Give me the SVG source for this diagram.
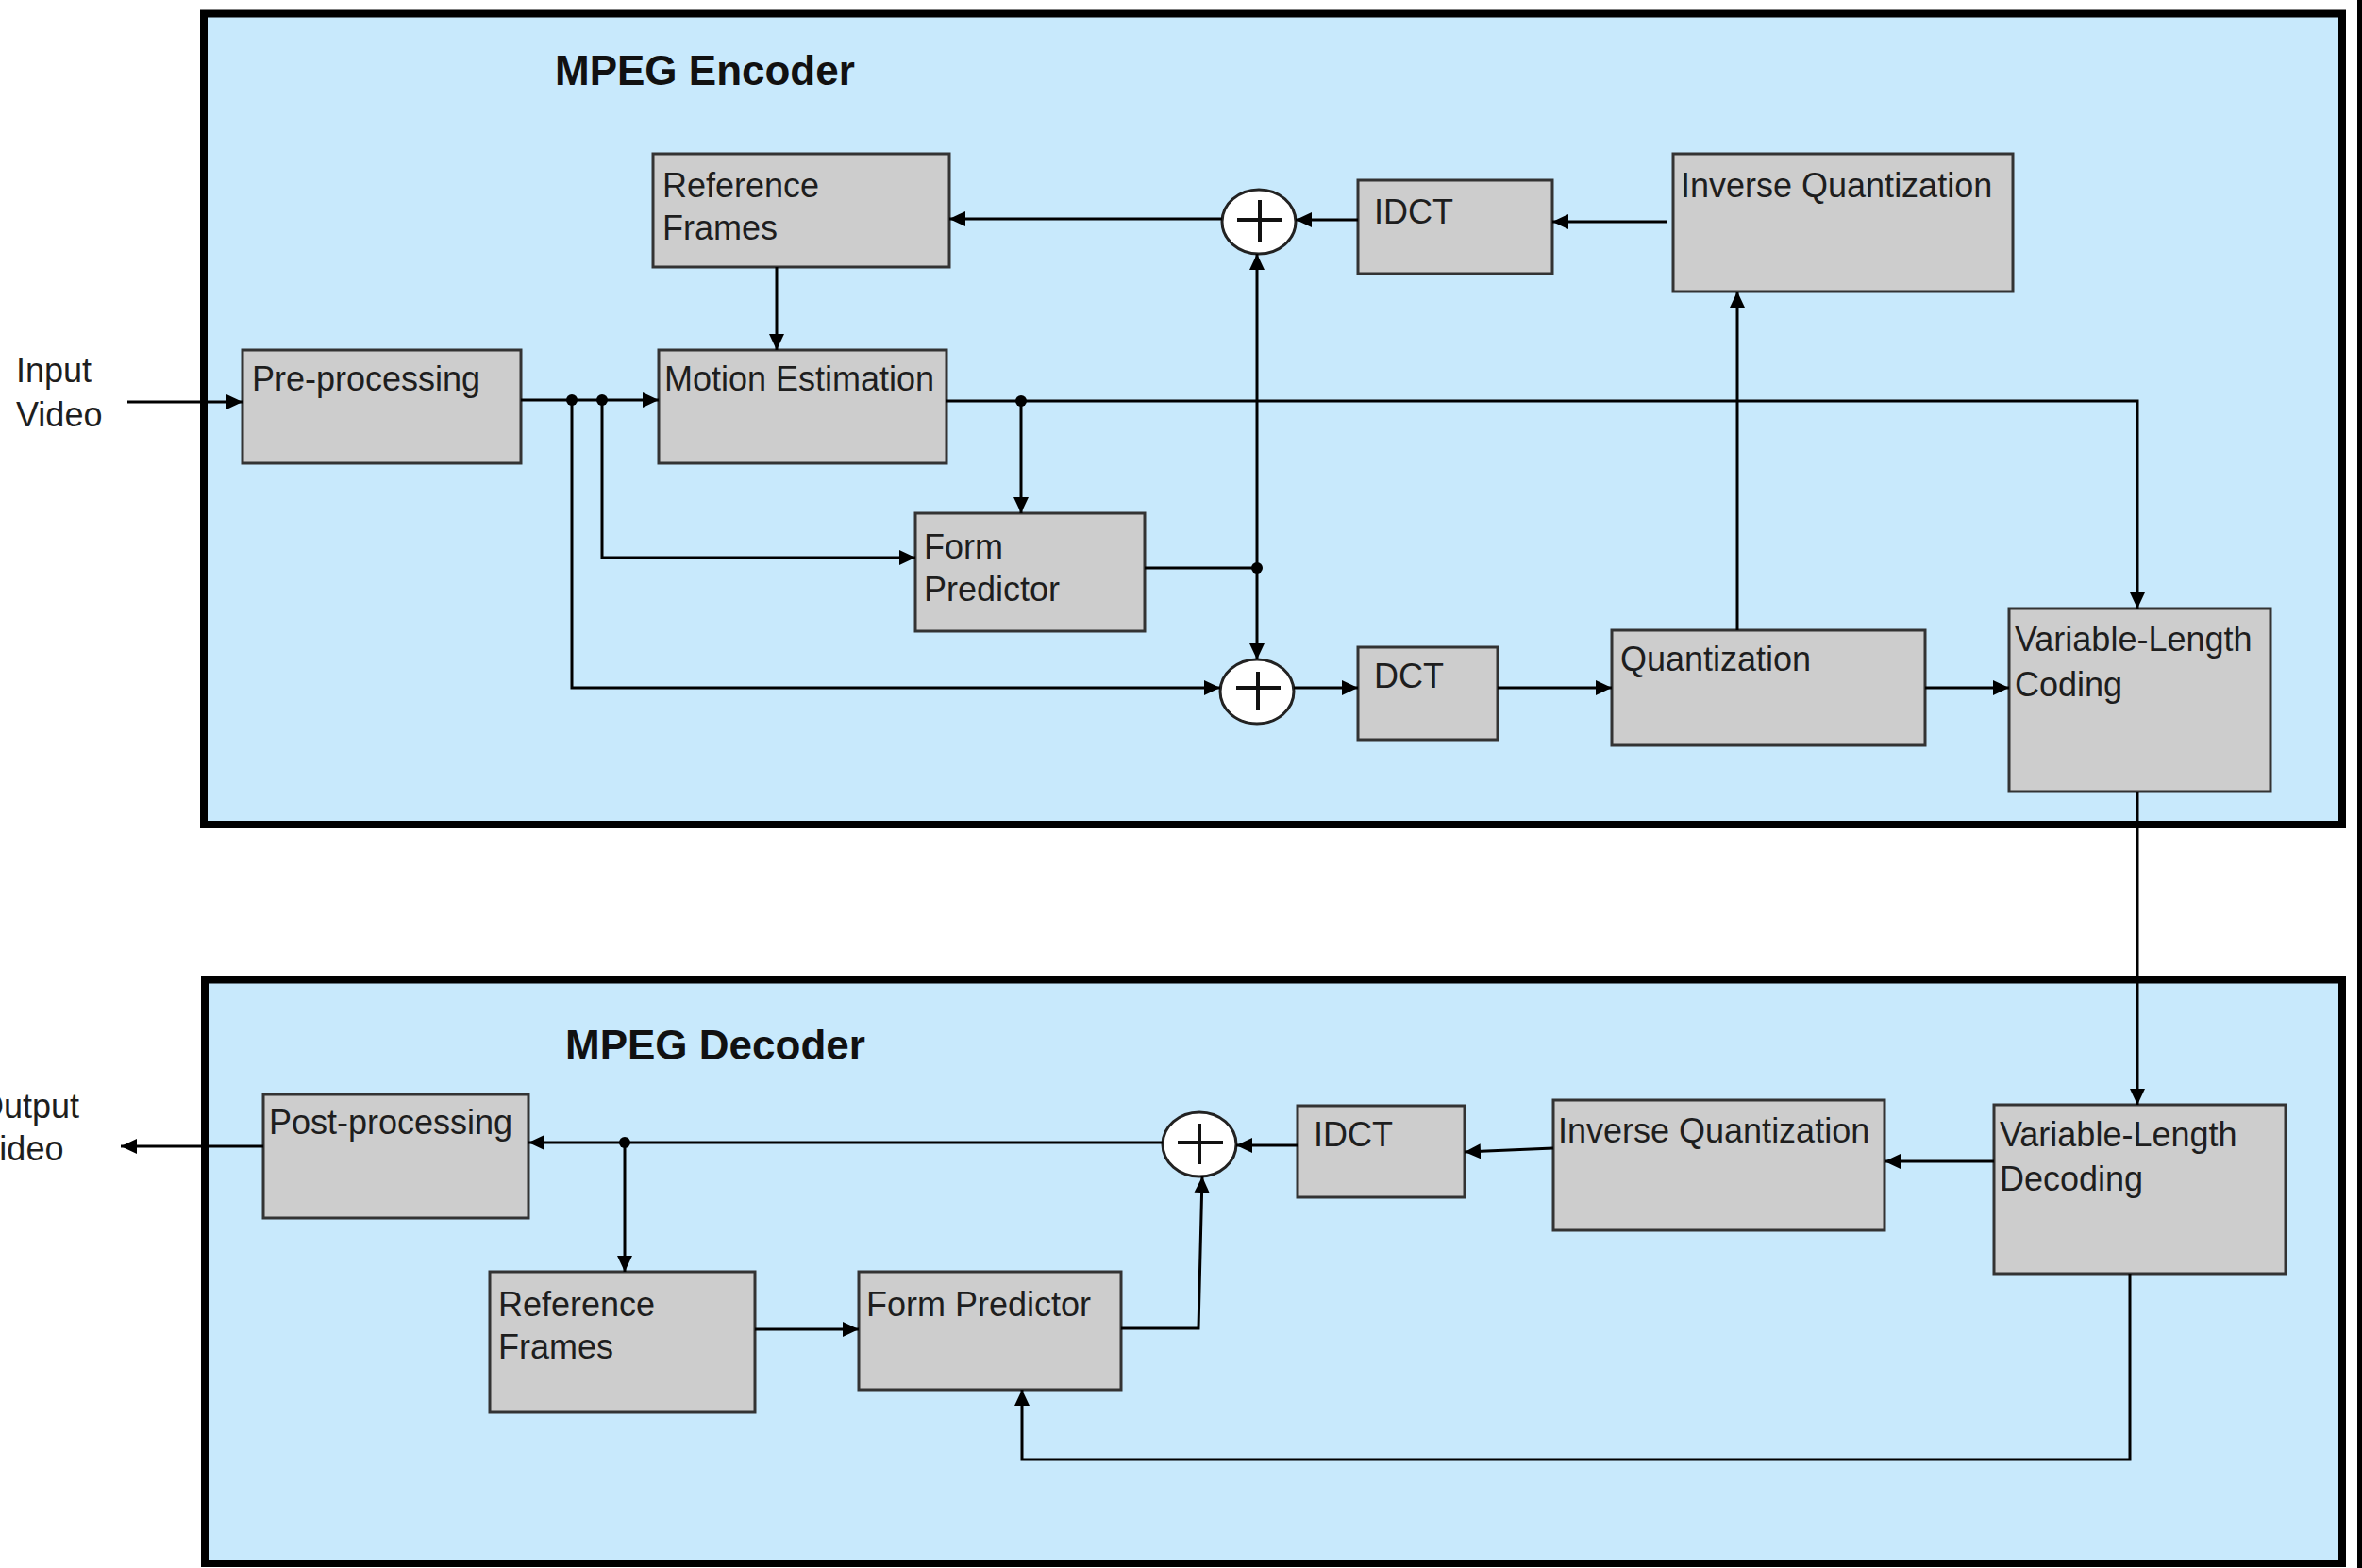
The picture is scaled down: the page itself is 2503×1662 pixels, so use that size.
<svg xmlns="http://www.w3.org/2000/svg" width="2503" height="1662" viewBox="0 0 2503 1662">
<style>
.panel{fill:#C8E9FC;stroke:#000;stroke-width:8}
.box{fill:#CDCDCD;stroke:#333;stroke-width:3}
.sum{fill:#fff;stroke:#222;stroke-width:3}
.plus{stroke:#111;stroke-width:4;fill:none}
text{font-family:"Liberation Sans",Arial,sans-serif;font-size:36px;fill:#1e1e1e}
.title{font-weight:bold;font-size:44px;fill:#111}
.wire{fill:none;stroke:#000;stroke-width:3}
.arr{marker-end:url(#ah)}
.dot{fill:#000}
</style>
<defs>
<marker id="ah" markerUnits="userSpaceOnUse" markerWidth="18" markerHeight="18" refX="17" refY="9" orient="auto">
<path d="M0,1 L17,9 L0,17 z" fill="#000"/>
</marker>
</defs>
<rect x="0" y="0" width="2503" height="1662" fill="#fff"/>
<rect x="2498" y="0" width="5" height="1662" fill="#000"/>

<g id="encoder">
<rect class="panel" x="216" y="14.5" width="2266" height="859.5"/>
<text class="title" x="588" y="90">MPEG Encoder</text>
</g>
<g id="decoder">
<rect class="panel" x="217" y="1038.5" width="2265" height="618.5"/>
<text class="title" x="599" y="1123">MPEG Decoder</text>
</g>

<g id="input-label"><text x="17" y="405">Input</text><text x="17" y="452">Video</text></g>
<g id="output-label"><text x="-24" y="1185">Output</text><text x="-24" y="1230">Video</text></g>

<g id="enc-ref-frames"><rect class="box" x="692" y="163" width="314" height="120"/><text x="702" y="209">Reference</text><text x="702" y="254">Frames</text></g>
<g id="enc-pre-processing"><rect class="box" x="257" y="371" width="295" height="120"/><text x="267" y="414">Pre-processing</text></g>
<g id="enc-motion-estimation"><rect class="box" x="698" y="371" width="305" height="120"/><text x="704" y="414">Motion Estimation</text></g>
<g id="enc-form-predictor"><rect class="box" x="970" y="544" width="243" height="125"/><text x="979" y="592">Form</text><text x="979" y="637">Predictor</text></g>
<g id="enc-idct"><rect class="box" x="1439" y="191" width="206" height="99"/><text x="1456" y="237">IDCT</text></g>
<g id="enc-inverse-quantization"><rect class="box" x="1773" y="163" width="360" height="146"/><text x="1781" y="209">Inverse Quantization</text></g>
<g id="enc-dct"><rect class="box" x="1439" y="686" width="148" height="98"/><text x="1456" y="729">DCT</text></g>
<g id="enc-quantization"><rect class="box" x="1708" y="668" width="332" height="122"/><text x="1717" y="711">Quantization</text></g>
<g id="enc-vlc"><rect class="box" x="2129" y="645" width="277" height="194"/><text x="2135" y="690">Variable-Length</text><text x="2135" y="738">Coding</text></g>
<g id="enc-sum-top"><ellipse class="sum" cx="1334" cy="235" rx="39" ry="34"/><path class="plus" d="M1311,233 H1359 M1335,212 V256"/></g>
<g id="enc-sum-bottom"><ellipse class="sum" cx="1332" cy="733" rx="39" ry="34"/><path class="plus" d="M1310,729 H1357 M1333,712 V753"/></g>

<g id="dec-post-processing"><rect class="box" x="279" y="1160" width="281" height="131"/><text x="285" y="1202">Post-processing</text></g>
<g id="dec-ref-frames"><rect class="box" x="519" y="1348" width="281" height="149"/><text x="528" y="1395">Reference</text><text x="528" y="1440">Frames</text></g>
<g id="dec-form-predictor"><rect class="box" x="910" y="1348" width="278" height="125"/><text x="918" y="1395">Form Predictor</text></g>
<g id="dec-idct"><rect class="box" x="1375" y="1172" width="177" height="97"/><text x="1392" y="1215">IDCT</text></g>
<g id="dec-inverse-quantization"><rect class="box" x="1646" y="1166" width="351" height="138"/><text x="1651" y="1211">Inverse Quantization</text></g>
<g id="dec-vld"><rect class="box" x="2113" y="1171" width="309" height="179"/><text x="2119" y="1215">Variable-Length</text><text x="2119" y="1262">Decoding</text></g>
<g id="dec-sum"><ellipse class="sum" cx="1271" cy="1213" rx="39" ry="34"/><path class="plus" d="M1248,1211 H1296 M1271,1191 V1234"/></g>

<g id="connectors">
<path class="wire arr" d="M135,426 H257"/>
<path class="wire arr" d="M552,424 H698"/>
<path class="wire arr" d="M638,424 V591 H970"/>
<path class="wire arr" d="M606,424 V729 H1293"/>
<path class="wire arr" d="M823,283 V371"/>
<path class="wire arr" d="M1003,425 H2265 V645"/>
<path class="wire arr" d="M1082,425 V544"/>
<path class="wire" d="M1213,602 H1332"/>
<path class="wire arr" d="M1332,602 V269"/>
<path class="wire arr" d="M1332,602 V699"/>
<path class="wire arr" d="M1295,232 H1006"/>
<path class="wire arr" d="M1439,233 H1373"/>
<path class="wire arr" d="M1767,235 H1645"/>
<path class="wire arr" d="M1371,729 H1439"/>
<path class="wire arr" d="M1587,729 H1708"/>
<path class="wire arr" d="M2040,729 H2129"/>
<path class="wire arr" d="M1841,668 V309"/>
<path class="wire arr" d="M2265,839 V1171"/>
<circle class="dot" cx="606" cy="424" r="6"/>
<circle class="dot" cx="638" cy="424" r="6"/>
<circle class="dot" cx="1082" cy="425" r="6"/>
<circle class="dot" cx="1332" cy="602" r="6"/>

<path class="wire arr" d="M1232,1211 H560"/>
<path class="wire arr" d="M662,1211 V1348"/>
<path class="wire arr" d="M279,1215 H128"/>
<path class="wire arr" d="M800,1409 H910"/>
<path class="wire arr" d="M1188,1408 H1270 L1274,1247"/>
<path class="wire arr" d="M2113,1231 H1997"/>
<path class="wire arr" d="M1646,1217 L1552,1221"/>
<path class="wire arr" d="M1375,1214 H1310"/>
<path class="wire arr" d="M2257,1350 V1547 H1083 V1473"/>
<circle class="dot" cx="662" cy="1211" r="6"/>
</g>
</svg>
